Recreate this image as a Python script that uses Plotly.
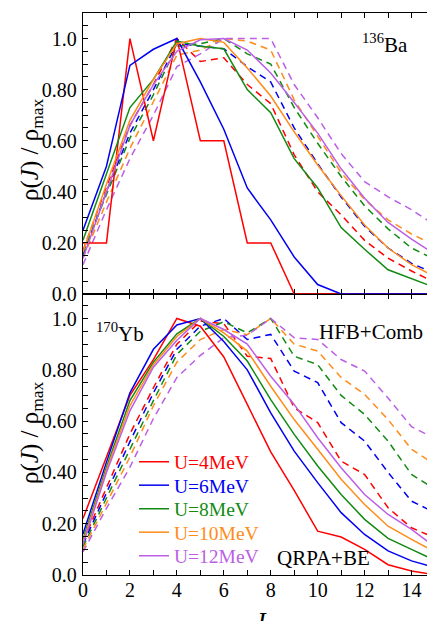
import plotly.graph_objects as go

J = list(range(16))

# ---- 136Ba (top panel) ----
ba_solid_U4 = [0.20, 0.20, 1.00, 0.60, 1.00, 0.60, 0.60, 0.20, 0.20, 0.00, 0.00, 0.00, 0.00, 0.00, 0.00, 0.00]
ba_solid_U6 = [0.25, 0.50, 0.895, 0.958, 1.00, 0.83, 0.645, 0.415, 0.29, 0.145, 0.037, 0.00, 0.00, 0.00, 0.00, 0.00]
ba_solid_U8 = [0.21, 0.47, 0.73, 0.84, 0.99, 0.97, 0.96, 0.80, 0.71, 0.53, 0.415, 0.26, 0.175, 0.095, 0.06, 0.025]
ba_solid_U10 = [0.165, 0.43, 0.68, 0.84, 0.98, 1.00, 0.985, 0.885, 0.775, 0.635, 0.505, 0.385, 0.27, 0.18, 0.115, 0.068]
ba_solid_U12 = [0.14, 0.40, 0.66, 0.82, 0.95, 0.995, 1.00, 0.955, 0.865, 0.75, 0.63, 0.49, 0.375, 0.28, 0.215, 0.155]

ba_dash_U4 = [0.17, 0.42, 0.66, 0.82, 1.00, 0.91, 0.925, 0.82, 0.745, 0.545, 0.40, 0.31, 0.21, 0.14, 0.09, 0.045]
ba_dash_U6 = [0.15, 0.40, 0.63, 0.80, 0.98, 0.97, 0.96, 0.89, 0.83, 0.65, 0.51, 0.38, 0.265, 0.18, 0.12, 0.08]
ba_dash_U8 = [0.16, 0.39, 0.61, 0.78, 0.97, 0.98, 1.00, 0.94, 0.90, 0.73, 0.59, 0.46, 0.345, 0.255, 0.18, 0.135]
ba_dash_U10 = [0.14, 0.36, 0.57, 0.75, 0.935, 0.955, 1.00, 0.99, 0.955, 0.76, 0.615, 0.475, 0.37, 0.29, 0.235, 0.19]
ba_dash_U12 = [0.115, 0.33, 0.53, 0.70, 0.89, 0.94, 1.00, 1.00, 1.00, 0.82, 0.69, 0.55, 0.44, 0.38, 0.33, 0.27]

# ---- 170Yb (bottom panel) ----
yb_solid_U4 = [0.22, 0.46, 0.70, 0.84, 1.00, 0.97, 0.85, 0.665, 0.48, 0.33, 0.171, 0.148, 0.10, 0.04, 0.016, 0.00]
yb_solid_U6 = [0.16, 0.44, 0.71, 0.88, 0.975, 1.00, 0.91, 0.80, 0.632, 0.483, 0.36, 0.243, 0.158, 0.094, 0.055, 0.029]
yb_solid_U8 = [0.14, 0.42, 0.68, 0.83, 0.94, 1.00, 0.93, 0.834, 0.684, 0.548, 0.425, 0.314, 0.217, 0.143, 0.10, 0.057]
yb_solid_U10 = [0.13, 0.41, 0.66, 0.82, 0.93, 1.00, 0.944, 0.873, 0.736, 0.606, 0.49, 0.373, 0.275, 0.19, 0.139, 0.09]
yb_solid_U12 = [0.12, 0.40, 0.64, 0.81, 0.915, 1.00, 0.957, 0.90, 0.775, 0.665, 0.535, 0.418, 0.314, 0.236, 0.178, 0.109]

yb_dash_U4 = [0.13, 0.34, 0.55, 0.73, 0.90, 0.99, 0.98, 0.853, 0.844, 0.652, 0.594, 0.444, 0.392, 0.262, 0.184, 0.145]
yb_dash_U6 = [0.12, 0.32, 0.52, 0.71, 0.88, 0.97, 1.00, 0.918, 0.938, 0.795, 0.75, 0.594, 0.522, 0.40, 0.288, 0.243]
yb_dash_U8 = [0.11, 0.30, 0.49, 0.68, 0.86, 0.95, 0.987, 0.944, 1.00, 0.853, 0.82, 0.70, 0.626, 0.522, 0.392, 0.334]
yb_dash_U10 = [0.10, 0.28, 0.46, 0.66, 0.83, 0.918, 0.957, 0.937, 1.00, 0.90, 0.873, 0.77, 0.704, 0.606, 0.49, 0.43]
yb_dash_U12 = [0.09, 0.26, 0.42, 0.61, 0.77, 0.856, 0.925, 0.935, 1.00, 0.925, 0.918, 0.84, 0.795, 0.69, 0.578, 0.532]

legend_names = ["U=4MeV", "U=6MeV", "U=8MeV", "U=10MeV", "U=12MeV"]
colors = ["#FF0000", "#0000F0", "#128A12", "#FF8C1A", "#BB5FE6"]

y_tickvals = [round(0.05 * i, 2) for i in range(23)]
y_ticklabels = {0.0: "0.0", 0.2: "0.20", 0.4: "0.40", 0.6: "0.60", 0.8: "0.80", 1.0: "1.0"}
y_ticktext = [y_ticklabels.get(v, "") for v in y_tickvals]
x_tickvals = J
x_ticktext = [str(v) if v % 2 == 0 else "" for v in J]

FONT = "Liberation Serif, Times New Roman, serif"
DASH = "7px,5px"

ba_solid = [ba_solid_U4, ba_solid_U6, ba_solid_U8, ba_solid_U10, ba_solid_U12]
ba_dash = [ba_dash_U4, ba_dash_U6, ba_dash_U8, ba_dash_U10, ba_dash_U12]
yb_solid = [yb_solid_U4, yb_solid_U6, yb_solid_U8, yb_solid_U10, yb_solid_U12]
yb_dash = [yb_dash_U4, yb_dash_U6, yb_dash_U8, yb_dash_U10, yb_dash_U12]

fig = go.Figure()

legend_keys = ["legend", "legend2", "legend3", "legend4", "legend5"]

for i in range(5):
    fig.add_trace(go.Scatter(x=J, y=ba_dash[i], mode="lines", xaxis="x2", yaxis="y2",
                             line=dict(color=colors[i], width=1.5, dash=DASH), showlegend=False))
    fig.add_trace(go.Scatter(x=J, y=yb_dash[i], mode="lines", xaxis="x", yaxis="y",
                             line=dict(color=colors[i], width=1.5, dash=DASH), showlegend=False))
for i in range(5):
    fig.add_trace(go.Scatter(x=J, y=ba_solid[i], mode="lines", xaxis="x2", yaxis="y2",
                             line=dict(color=colors[i], width=1.5), showlegend=False))
    fig.add_trace(go.Scatter(x=J, y=yb_solid[i], mode="lines", xaxis="x", yaxis="y",
                             name=legend_names[i], legend=legend_keys[i],
                             line=dict(color=colors[i], width=1.5), showlegend=True))

axis_common = dict(showline=True, linecolor="black", linewidth=1.3, mirror="ticks",
                   ticks="inside", ticklen=5, tickwidth=1.1, tickcolor="black",
                   showgrid=False, zeroline=False,
                   tickfont=dict(family=FONT, size=20, color="black"))

# The page body has an 8px margin: the figure canvas starts at page (8, 8).
layout = dict(
    width=435, height=621,
    margin=dict(l=75, r=8, t=5, b=54, pad=0),
    paper_bgcolor="white", plot_bgcolor="white",
    font=dict(family=FONT, size=20, color="black"),
    xaxis=dict(domain=[0, 1], anchor="y", range=[0, 15], tickmode="array",
               tickvals=x_tickvals, ticktext=x_ticktext, ticklabelstandoff=-3, **axis_common),
    yaxis=dict(domain=[0, 0.5], anchor="x", range=[0, 1.0955], tickmode="array",
               tickvals=y_tickvals, ticktext=y_ticktext, ticklabelstandoff=1, **axis_common),
    xaxis2=dict(domain=[0, 1], anchor="y2", range=[0, 15], tickmode="array",
                tickvals=x_tickvals, showticklabels=False, **axis_common),
    yaxis2=dict(domain=[0.5, 1], anchor="x2", range=[0, 1.1], tickmode="array",
                tickvals=y_tickvals, ticktext=y_ticktext, ticklabelstandoff=1, **axis_common),
)

# page-pixel helpers (plot area spans page x 83..435, y 13..575)
def px_x(p):
    return (p - 83) / 352

def px_y(p):
    return (575 - p) / 562

# legends: one per entry for exact row spacing
legend_rows_px = [462, 485.5, 509, 532.5, 556]
for k, key in enumerate(legend_keys):
    layout[key] = dict(x=px_x(134), xanchor="left",
                       y=px_y(legend_rows_px[k]), yanchor="middle",
                       bgcolor="rgba(0,0,0,0)", borderwidth=0,
                       font=dict(family=FONT, size=19.5, color=colors[k]),
                       itemwidth=30, tracegroupgap=0)

fig.update_layout(**layout)

ann = [
    dict(text="ρ(<i>J</i>) / ρ<sub>max</sub>", x=px_x(31), y=px_y(150), textangle=-90, size=25),
    dict(text="ρ(<i>J</i>) / ρ<sub>max</sub>", x=px_x(31), y=px_y(433), textangle=-90, size=25),
    dict(text="<sup>136</sup>Ba", x=px_x(385), y=px_y(44), textangle=0, size=21),
    dict(text="<sup>170</sup>Yb", x=px_x(120), y=px_y(332), textangle=0, size=21),
    dict(text="HFB+Comb", x=px_x(371), y=px_y(332), textangle=0, size=21),
    dict(text="QRPA+BE", x=px_x(323), y=px_y(558), textangle=0, size=21),
    dict(text="<i>J</i>", x=px_x(260), y=px_y(622), textangle=0, size=26),
]
for a in ann:
    fig.add_annotation(text=a["text"], x=a["x"], y=a["y"], xref="paper", yref="paper",
                       xanchor="center", yanchor="middle", showarrow=False,
                       textangle=a["textangle"],
                       font=dict(family=FONT, size=a["size"], color="black"))

fig.write_html("out.html")
